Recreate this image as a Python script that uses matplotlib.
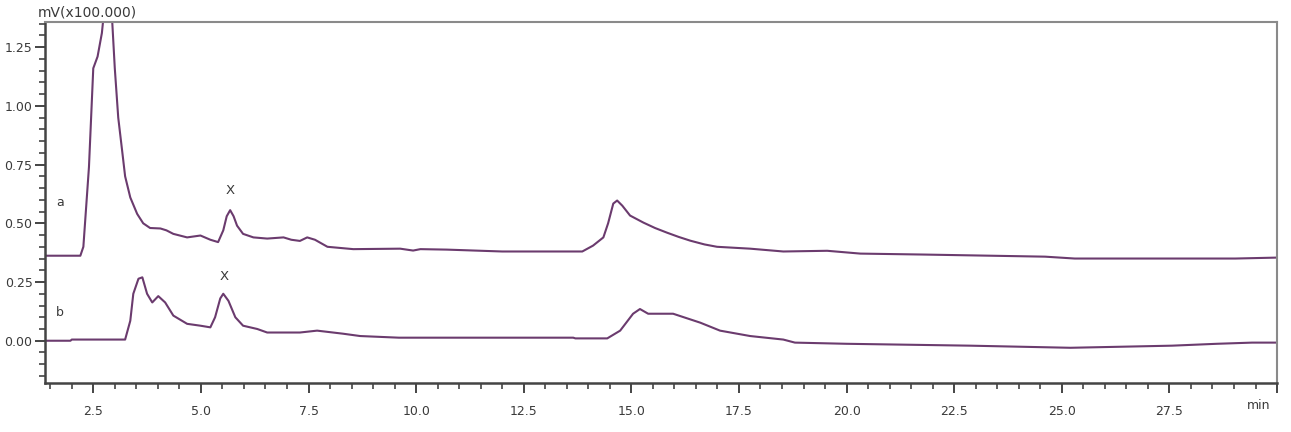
import matplotlib
matplotlib.use('Agg')
from matplotlib import pyplot as plt
from matplotlib.ticker import MultipleLocator

# chromatogram a (upper trace), time in min, signal in mV x100,000
time_a = [1.38, 2.20, 2.27, 2.40, 2.50, 2.60, 2.70, 2.75, 2.83, 2.90, 2.94,
          3.00, 3.08, 3.17, 3.24, 3.36, 3.52, 3.66, 3.82, 4.06, 4.20, 4.36,
          4.68, 4.99, 5.22, 5.40, 5.52, 5.60, 5.68, 5.76, 5.84, 5.98, 6.22,
          6.54, 6.92, 7.10, 7.30, 7.47, 7.65, 7.94, 8.54, 9.63, 9.93, 10.10,
          10.71, 12.00, 13.86, 14.11, 14.35, 14.46, 14.58, 14.67, 14.79,
          14.97, 15.28, 15.55, 15.83, 16.10, 16.37, 16.70, 16.99, 17.76,
          18.53, 19.55, 20.32, 21.78, 24.61, 25.30, 29.03, 30.00]
signal_a = [0.362, 0.362, 0.40, 0.74, 1.16, 1.21, 1.31, 1.40, 1.45, 1.40, 1.36,
            1.16, 0.95, 0.81, 0.70, 0.61, 0.54, 0.50, 0.48, 0.478, 0.47, 0.455,
            0.44, 0.448, 0.43, 0.42, 0.47, 0.53, 0.556, 0.53, 0.49, 0.455, 0.44,
            0.435, 0.44, 0.43, 0.425, 0.44, 0.43, 0.40, 0.39, 0.392, 0.384, 0.39,
            0.388, 0.38, 0.38, 0.405, 0.44, 0.50, 0.584, 0.597, 0.575,
            0.533, 0.503, 0.48, 0.46, 0.442, 0.426, 0.41, 0.40, 0.392,
            0.38, 0.383, 0.371, 0.367, 0.358, 0.35, 0.35, 0.354]

# chromatogram b (lower trace)
time_b = [1.38, 1.97, 2.00, 3.24, 3.36, 3.43, 3.55, 3.64, 3.75, 3.87, 4.01,
          4.17, 4.36, 4.68, 4.99, 5.22, 5.33, 5.45, 5.52, 5.64, 5.80, 5.98,
          6.31, 6.54, 7.30, 7.70, 8.30, 8.70, 9.60, 13.65, 13.70, 14.44,
          14.74, 15.04, 15.20, 15.39, 15.97, 16.60, 17.06, 17.76, 18.53,
          18.80, 20.00, 22.87, 25.20, 27.56, 28.60, 29.42, 30.00]
signal_b = [0.0, 0.0, 0.005, 0.005, 0.085, 0.20, 0.264, 0.27, 0.20, 0.163, 0.19,
            0.163, 0.107, 0.072, 0.064, 0.057, 0.10, 0.18, 0.20, 0.17, 0.10, 0.064,
            0.05, 0.035, 0.035, 0.043, 0.03, 0.02, 0.013, 0.013, 0.01, 0.01,
            0.043, 0.115, 0.135, 0.115, 0.115, 0.077, 0.043, 0.02, 0.005,
            -0.008, -0.013, -0.021, -0.03, -0.021, -0.013, -0.008, -0.008]

trace_labels = ['a', 'b']
label_pos = [(1.72, 0.59), (1.72, 0.12)]
peak_marks = [(5.68, 0.64), (5.54, 0.275)]

line_color = '#6b3b6e'
text_color = '#3a3a3a'

fig = plt.figure(figsize=(12.91, 4.32), dpi=100)
ax = fig.add_axes([0.0349, 0.1134, 0.9543, 0.8356])

ax.plot(time_a, signal_a, color=line_color, lw=1.5)
ax.plot(time_b, signal_b, color=line_color, lw=1.5)

for lab, (x, y) in zip(trace_labels, label_pos):
    ax.text(x, y, lab, fontsize=9, color=text_color, ha='center', va='center')
for x, y in peak_marks:
    ax.text(x, y, 'X', fontsize=9.5, color=text_color, ha='center', va='center')

ax.set_xlim(1.38, 30.0)
ax.set_ylim(-0.18, 1.357)

ax.xaxis.set_major_locator(MultipleLocator(2.5))
ax.xaxis.set_minor_locator(MultipleLocator(0.5))
ax.yaxis.set_major_locator(MultipleLocator(0.25))
ax.yaxis.set_minor_locator(MultipleLocator(0.05))
# no number at 30.0, "min" sits there instead
ax.xaxis.set_major_formatter(
    plt.FuncFormatter(lambda v, p: '' if v > 29 else '%.1f' % v))
ax.yaxis.set_major_formatter(plt.FuncFormatter(lambda v, p: '%.2f' % v))

ax.tick_params(which='major', direction='out', length=7, width=1.4,
               color='#444444', labelsize=9, labelcolor=text_color, pad=9)
ax.tick_params(which='minor', direction='out', length=4, width=1.2,
               color='#444444')
ax.tick_params(axis='y', which='major', pad=2)
ax.tick_params(top=False, right=False)

for side in ['left', 'bottom']:
    ax.spines[side].set_color('#444444')
    ax.spines[side].set_linewidth(1.8)
for side in ['top', 'right']:
    ax.spines[side].set_color('#8a8a8a')
    ax.spines[side].set_linewidth(1.5)

fig.text(0.0295, 0.972, 'mV(x100.000)', fontsize=10, color=text_color,
         ha='left', va='center')
fig.text(0.975, 0.062, 'min', fontsize=9, color=text_color,
         ha='center', va='center')

fig.savefig('out.png', dpi=100)
